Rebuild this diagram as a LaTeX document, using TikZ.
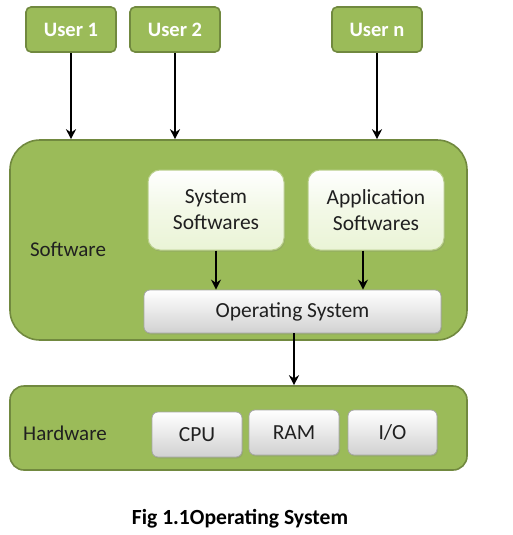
\documentclass[tikz,border=0pt]{standalone}
\usepackage{fontspec}
\setmainfont{Carlito}
\usetikzlibrary{arrows.meta,shadows}
\definecolor{oliveg}{HTML}{9BBB59}
\definecolor{oliveb}{HTML}{71893F}
\definecolor{lightg}{HTML}{EAF4D6}
\definecolor{greyb}{HTML}{A6A6A6}
\definecolor{txt}{HTML}{202020}
\tikzset{
  userbox/.style={draw=oliveb, line width=1.6pt, fill=oliveg, rounded corners=5pt,
    minimum width=90pt, minimum height=45pt, inner sep=0pt, text=white,
    font=\fontsize{20.5}{22}\selectfont\bfseries},
  layerbox/.style={draw=oliveb, line width=1.6pt, fill=oliveg, inner sep=0pt},
  softbox/.style={draw=oliveg!70!white, line width=1pt, top color=white, bottom color=lightg,
    middle color=lightg!60!white, rounded corners=12pt, inner sep=0pt,
    minimum width=136pt, minimum height=80pt, align=center, text=txt,
    font=\fontsize{21.5}{26}\selectfont, drop shadow={opacity=0.25, shadow xshift=1pt, shadow yshift=-1.5pt}},
  greybox/.style={draw=greyb, line width=0.8pt, top color=white, bottom color=black!18,
    rounded corners=6pt, inner sep=0pt, text=txt, font=\fontsize{21.5}{22}\selectfont,
    drop shadow={opacity=0.25, shadow xshift=1pt, shadow yshift=-1.5pt}},
  lbl/.style={text=txt, font=\fontsize{21}{22}\selectfont, inner sep=0pt},
  arr/.style={line width=2.8pt, -{Stealth[length=10pt,width=10pt]}, black}
}
\begin{document}
\begin{tikzpicture}[x=1pt,y=-1pt]
\useasboundingbox (0,0) rectangle (512,535);
% users
\node[userbox] (u1) at (71,29.5) {User 1};
\node[userbox] (u2) at (175,29.5) {User 2};
\node[userbox] (un) at (377,29.5) {User n};
% software layer
\node[layerbox, rounded corners=30pt, minimum width=457pt, minimum height=200pt] (sw) at (238.5,240) {};
\node[lbl] (swl) at (68,249) {Software};
\node[softbox] (sys) at (216,210) {System\\Softwares};
\node[softbox] (app) at (376,210) {Application\\Softwares};
\node[greybox, minimum width=297pt, minimum height=43pt] (os) at (292.5,311.5) {Operating System};
% hardware layer
\node[layerbox, rounded corners=14pt, minimum width=457pt, minimum height=84pt] (hw) at (238.5,428) {};
\node[lbl] (hwl) at (65,433) {Hardware};
\node[greybox, minimum width=90pt, minimum height=45pt] (cpu) at (197,434.5) {CPU};
\node[greybox, minimum width=90pt, minimum height=45pt] (ram) at (294,432.5) {RAM};
\node[greybox, minimum width=89pt, minimum height=45pt] (io) at (392.5,432.5) {I/O};
% caption
\node[font=\fontsize{21.6}{24}\selectfont\bfseries, inner sep=0pt] (cap) at (240,519) {Fig 1.1Operating System};
% arrows
\draw[arr] (u1.south) -- (u1.south |- sw.north);
\draw[arr] (u2.south) -- (u2.south |- sw.north);
\draw[arr] (un.south) -- (un.south |- sw.north);
\draw[arr] (sys.south) -- (sys.south |- os.north);
\draw[arr] ([xshift=-13pt]app.south) -- ([xshift=-13pt]app.south |- os.north);
\draw[arr] ([xshift=1.5pt]os.south) -- ([xshift=1.5pt]os.south |- hw.north);
\end{tikzpicture}
\end{document}
